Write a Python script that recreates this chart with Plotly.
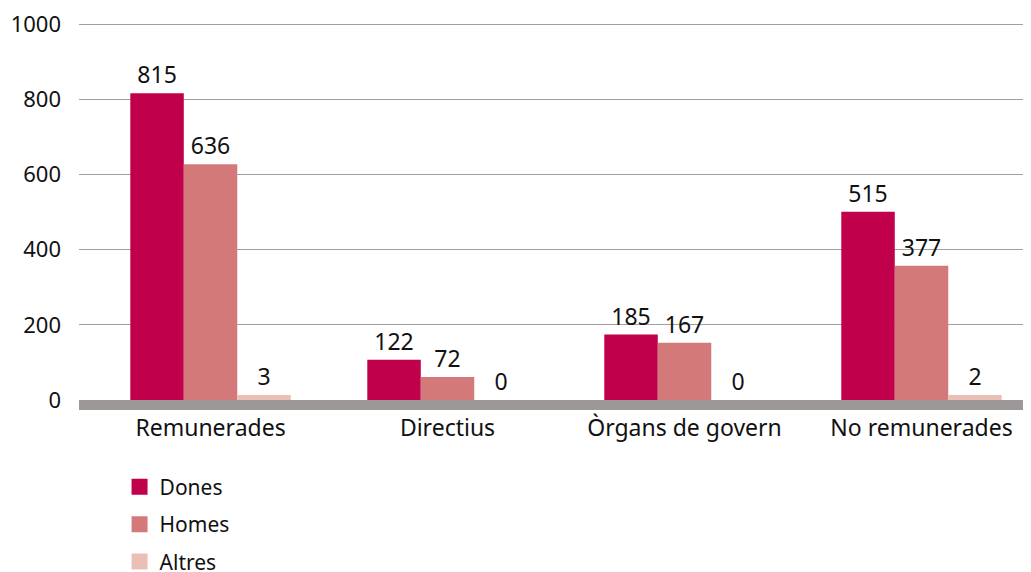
import plotly.graph_objects as go

categories = ["Remunerades", "Directius", "Òrgans de govern", "No remunerades"]
series_names = ["Dones", "Homes", "Altres"]
# bar heights as drawn in the picture
dones_bars = [816, 107, 174, 501]
homes_bars = [627, 61, 152, 357]
altres_bars = [13, 0, 0, 13]
# printed value labels
dones_labels = ["815", "122", "185", "515"]
homes_labels = ["636", "72", "167", "377"]
altres_labels = ["3", "0", "0", "2"]
y_ticks = [0, 200, 400, 600, 800, 1000]

colors = ["#c0004a", "#d4797a", "#eac0b6"]
FONT = "Noto Sans"

fig = go.Figure()
for name, vals, labs, col in zip(series_names,
                                 [dones_bars, homes_bars, altres_bars],
                                 [dones_labels, homes_labels, altres_labels],
                                 colors):
    fig.add_trace(go.Bar(
        x=categories, y=vals, name=name, marker=dict(color=col, line=dict(width=0)),
        text=labs, textposition="outside", cliponaxis=False,
        textfont=dict(family=FONT, size=23, color="#111111"),
        showlegend=False,
    ))
    # legend entry with a larger square swatch
    fig.add_trace(go.Scatter(
        x=[None], y=[None], mode="markers", name=name, legendgroup=name,
        marker=dict(symbol="square", size=19, color=col, line=dict(width=0)),
        showlegend=True,
    ))

fig.add_shape(type="rect", xref="paper", yref="paper", x0=0, x1=1,
              y0=-10 / 379, y1=0, fillcolor="#9c9898", line=dict(width=0), layer="above")

# page body has an 8px margin, so the figure is sized/offset to compensate
fig.update_layout(
    width=1023, height=564,
    margin=dict(l=71, r=0, t=13, b=172, autoexpand=False),
    paper_bgcolor="white", plot_bgcolor="white",
    barmode="group", bargap=0.323, bargroupgap=0,
    font=dict(family=FONT, size=23, color="#111111"),
    showlegend=True,
    legend=dict(x=0.0426, y=-0.176, xanchor="left", yanchor="top", orientation="v",
                font=dict(family=FONT, size=21, color="#111111"), tracegroupgap=7,
                traceorder="grouped", itemsizing="trace",
                bgcolor="rgba(0,0,0,0)"),
    xaxis=dict(range=[-0.555, 3.462], showgrid=False, zeroline=False, showline=False,
               ticks="", ticklabelstandoff=12, automargin=False,
               tickfont=dict(family=FONT, size=23, color="#111111")),
    yaxis=dict(range=[0, 1008], tickvals=y_ticks, showgrid=True, gridcolor="#a0a0a0",
               gridwidth=1, zeroline=False, showline=False, ticks="",
               ticklabelstandoff=17, automargin=False, ticklabeloverflow="allow",
               tickfont=dict(family=FONT, size=22, color="#111111")),
)

fig.write_html("out.html")
